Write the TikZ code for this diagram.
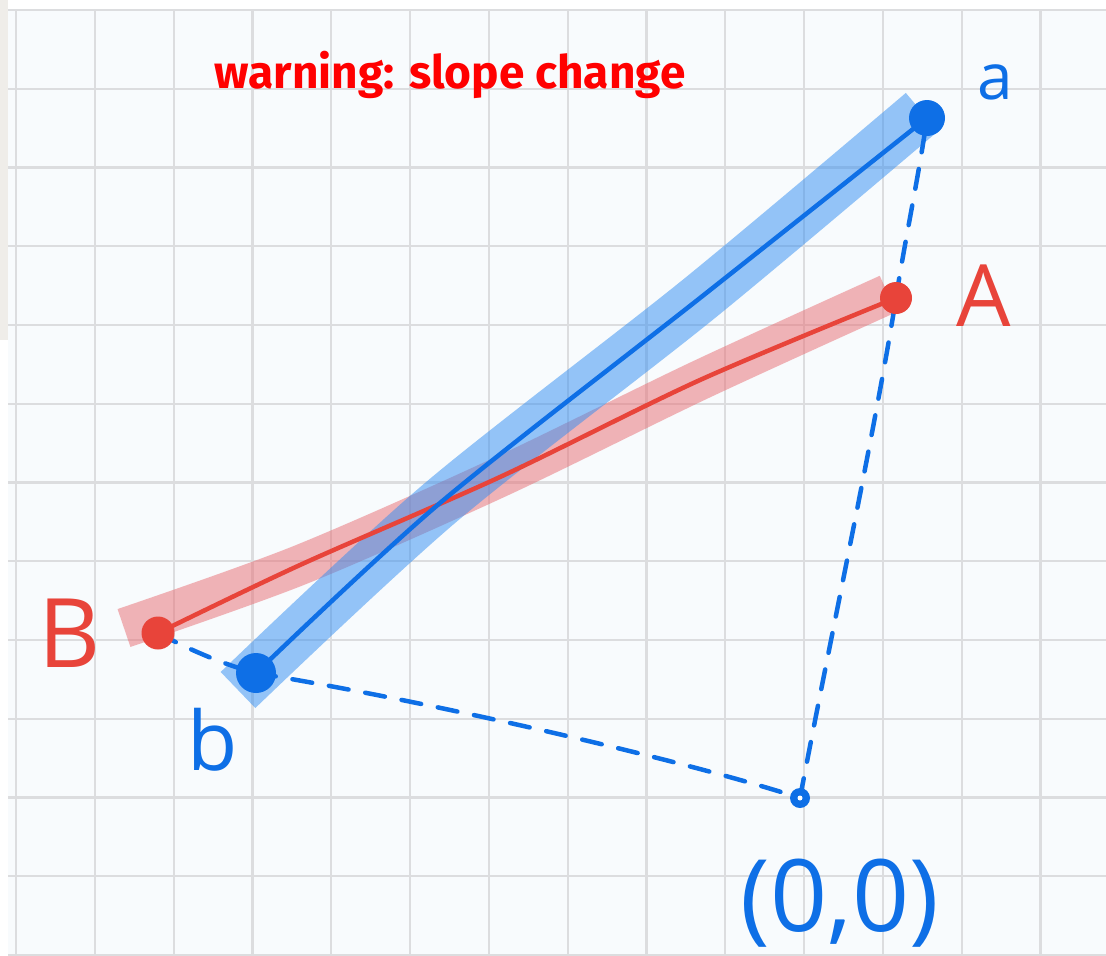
\documentclass[tikz,border=0pt]{standalone}
\usepackage{fontspec}
\setmainfont{Open Sans}
\newfontfamily\warnfont{Fira Sans}
\definecolor{gridc}{HTML}{DCDDDF}
\definecolor{paper}{HTML}{F8FBFD}
\definecolor{strip}{HTML}{EFEDE9}
\definecolor{bluec}{HTML}{0E6FE6}
\definecolor{blueh}{HTML}{2F8DF2}
\definecolor{redc}{HTML}{E8443A}
\definecolor{redh}{HTML}{E86A70}
\definecolor{warnred}{HTML}{FF0000}
\tikzset{
  gridline/.style={gridc, line width=2.2pt},
  bluehl/.style={blueh, opacity=0.5, line width=50pt, line cap=butt, line join=round},
  redhl/.style={redh, opacity=0.5, line width=40pt, line cap=butt, line join=round},
  bluecore/.style={bluec, line width=4.5pt, line cap=round},
  redcore/.style={redc, line width=4.5pt, line cap=round},
  dashline/.style={bluec, line width=4.5pt, dash pattern=on 20pt off 17pt, line cap=round},
  bluedot/.style={circle, fill=bluec, inner sep=0pt, minimum size=#1},
  reddot/.style={circle, fill=redc, inner sep=0pt, minimum size=#1},
  bluelbl/.style={text=bluec, inner sep=0pt, font=\fontsize{#1}{#1}\selectfont},
  redlbl/.style={text=redc, inner sep=0pt, font=\fontsize{#1}{#1}\selectfont},
}
\begin{document}
\begin{tikzpicture}[x=1pt, y=-1pt]
\useasboundingbox (0,0) rectangle (1106,956);
\fill[white] (0,0) rectangle (1106,956);
\fill[paper] (8,10) rectangle (1106,956);
\fill[strip] (0,0) rectangle (8,340);
% grid
\foreach \k in {0,...,12} { \draw[gridline] (8,{10+78.75*\k}) -- (1106,{10+78.75*\k}); }
\foreach \k in {0,...,13} { \draw[gridline] ({16+78.8*\k},10) -- ({16+78.8*\k},956); }

% key points
\coordinate (a) at (927,118);
\coordinate (A) at (896,298);
\coordinate (B) at (158,633);
\coordinate (b) at (256,673);
\coordinate (o) at (800,798);
\coordinate (bh) at (238,690);
\coordinate (ah) at (922,112);
\coordinate (Bh) at (124,628);
\coordinate (Ah) at (888,294);

% highlights
\draw[redhl] plot[smooth] coordinates {(Bh) (300,565) (500,477) (700,380) (Ah)};
\draw[bluehl] plot[smooth] coordinates {(bh) (440,503) (700,298) (ah)};

% cores
\draw[redcore] plot[smooth] coordinates {(B) (300,565) (500,477) (700,380) (A)};
\draw[bluecore] plot[smooth] coordinates {(b) (440,503) (700,298) (a)};

% dashed connectors
\draw[dashline] (B) .. controls (190,650) and (225,665) .. (b);
\draw[dashline] (b) .. controls (450,705) and (700,765) .. (o);
\draw[dashline] (o) .. controls (830,640) and (875,430) .. (A);
\draw[dashline] (A) .. controls (905,240) and (918,180) .. (a);

% dots
\node[bluedot=36pt] (adot) at (a) {};
\node[reddot=32pt] (Adot) at (A) {};
\node[reddot=33pt] (Bdot) at (B) {};
\node[bluedot=40pt] (bdot) at (b) {};
\node[circle, fill=bluec, inner sep=0pt, minimum size=20pt] (odot) at (o) {};
\node[circle, fill=white, inner sep=0pt, minimum size=5pt] (ohole) at (o) {};

% labels
\node[bluelbl=64pt] (alab) at (995,82) {a};
\node[redlbl=86pt] (Alab) at (984,296) {A};
\node[redlbl=96pt] (Blab) at (70,633) {B};
\node[bluelbl=82pt] (blab) at (213,740) {b};
\node[bluelbl=100pt] (olab) at (840,903) {(0,0)};
\node[text=warnred, inner sep=0pt, font=\warnfont\bfseries\fontsize{46pt}{46pt}\selectfont] (warn) at (450,75) {warning: slope change};
\end{tikzpicture}
\end{document}
